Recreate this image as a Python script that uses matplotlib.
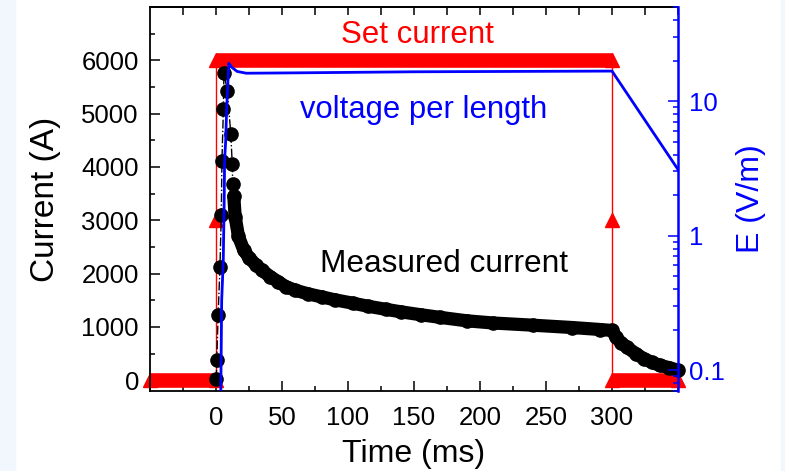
import numpy as np
import matplotlib
matplotlib.use("Agg")
import matplotlib.pyplot as plt
from matplotlib.patches import Rectangle
from matplotlib.ticker import MultipleLocator, LogLocator, NullFormatter, FixedFormatter, FixedLocator

plt.rcParams['font.family'] = ['Liberation Sans', 'DejaVu Sans']

# set current (step), A
set_t = [-50, 0, 0, 0, 300, 300, 300, 350]
set_I = [0, 0, 3000, 6000, 6000, 3000, 0, 0]

# measured current, A
meas_t = [0.2, 0.6, 1.6, 3.0, 4.0, 4.5, 5.6, 6.0, 8.6, 11.2, 12.3, 12.7, 13.5,
          14.5, 17, 21, 25, 30, 35, 41, 47, 53, 60, 70, 80, 90, 104, 115, 129,
          140, 155, 170, 190, 210, 240, 270, 291, 300,
          303, 307, 311, 318, 324, 330, 336, 343, 350]
meas_I = [30, 390, 1220, 2130, 3100, 4110, 5080, 5770, 5420, 4620, 4060, 3690, 3450,
          3070, 2700, 2445, 2300, 2170, 2060, 1945, 1850, 1755, 1690, 1620, 1565, 1510, 1445, 1390, 1330,
          1285, 1230, 1180, 1116, 1075, 1034, 990, 953, 935,
          810, 700, 627, 500, 408, 340, 282, 240, 190]
rise_end = 12  # index where the continuous decay starts

# voltage per length, V/m
volt_t = [3.5, 4.3, 5.5, 6.2, 6.5, 7.3, 8.1, 9.7, 12, 16, 23, 60, 150, 300, 350]
volt_E = [0.05, 0.33, 0.65, 1.8, 3.6, 5.0, 8.9, 19.1, 17.8, 16.6, 16.1, 16.2, 16.5, 16.7, 3.1]

fig = plt.figure(figsize=(7.85, 4.71), dpi=100)
fig.patches.append(Rectangle((0, 0), 15 / 785, 1, transform=fig.transFigure,
                             color='#f1f7fc', zorder=-1))
fig.patches.append(Rectangle((781 / 785, 0), 4 / 785, 1, transform=fig.transFigure,
                             color='#f1f7fc', zorder=-1))
ax = fig.add_axes([150 / 785, 1 - 391 / 471, 528 / 785, 384 / 471])

# set current: thin line + triangles, horizontal runs drawn as a thick band
ax.plot(set_t, set_I, color='red', lw=1, zorder=2)
for i in range(len(set_t) - 1):
    if set_I[i] == set_I[i + 1]:
        ax.plot(set_t[i:i + 2], set_I[i:i + 2], color='red', lw=10.5,
                solid_capstyle='butt', zorder=2, clip_on=False)
ax.plot(set_t, set_I, ls='none', marker='^', ms=10.5, color='red', zorder=2, clip_on=False)

# measured current
ax.plot(meas_t, meas_I, color='black', lw=1, ls='-.', zorder=3)
ax.plot(meas_t[rise_end:], meas_I[rise_end:], color='black', lw=9.5,
        solid_capstyle='round', solid_joinstyle='round', zorder=3)
ax.plot(meas_t, meas_I, ls='none', marker='o', ms=9.5, color='black', zorder=3, clip_on=False)

ax.set_xlim(-50, 350)
ax.set_ylim(-200, 7000)
ax.xaxis.set_major_locator(FixedLocator(np.arange(0, 301, 50)))
ax.xaxis.set_minor_locator(MultipleLocator(25))
ax.yaxis.set_major_locator(FixedLocator(np.arange(0, 6001, 1000)))
ax.yaxis.set_minor_locator(MultipleLocator(500))
ax.tick_params(which='both', direction='in', width=1.1, labelsize=18.5, pad=8)
ax.tick_params(axis='x', which='both', pad=11)
ax.tick_params(which='major', length=7)
ax.tick_params(which='minor', length=3.6)
ax.tick_params(axis='y', right=False)
for s in ['left', 'bottom', 'top']:
    ax.spines[s].set_linewidth(1.3)
ax.spines['right'].set_visible(False)

top = ax.secondary_xaxis('top')
top.set_xticks(np.arange(-25, 351, 25))
top.tick_params(direction='in', length=6, width=1.1, labeltop=False)
top.spines['top'].set_linewidth(1.3)

ax.set_xlabel('Time (ms)', fontsize=23, labelpad=6)
ax.set_ylabel('Current (A)', fontsize=24, labelpad=15)

ax.text(152.5, 6319, 'Set current', color='red', fontsize=22.5, ha='center', va='baseline')
ax.text(157, 4928, 'voltage per length', color='blue', fontsize=22.3, ha='center', va='baseline')
ax.text(173, 2037, 'Measured current', color='black', fontsize=22.8, ha='center', va='baseline')

# voltage on log right axis
ax2 = ax.twinx()
ax2.plot(volt_t, volt_E, color='blue', lw=2)
ax2.set_yscale('log')
ax2.set_ylim(0.07, 50)
ax2.yaxis.set_major_locator(FixedLocator([0.1, 1, 10]))
ax2.yaxis.set_major_formatter(FixedFormatter(['0.1', '1', '10']))
ax2.yaxis.set_minor_locator(LogLocator(base=10, subs=np.arange(2, 10)))
ax2.yaxis.set_minor_formatter(NullFormatter())
ax2.tick_params(which='both', direction='in', color='blue', labelcolor='blue',
                width=1.1, labelsize=18.5, pad=8)
ax2.tick_params(which='major', length=7)
ax2.tick_params(which='minor', length=3.6)
for s in ['left', 'bottom', 'top']:
    ax2.spines[s].set_visible(False)
ax2.spines['right'].set_color('blue')
ax2.spines['right'].set_linewidth(1.8)
ax2.set_ylabel('E (V/m)', color='blue', fontsize=23, labelpad=8)

fig.savefig('out.png', dpi=100)
